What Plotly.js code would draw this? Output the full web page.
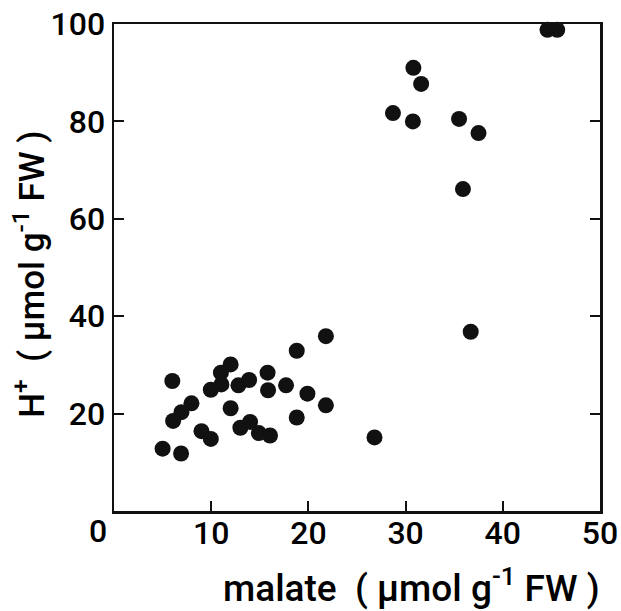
<!DOCTYPE html>
<html>
<head>
<meta charset="utf-8">
<script src="https://cdn.plot.ly/plotly-3.0.1.min.js"></script>
<style>html,body{margin:0;padding:0;background:#fff;}#chart{width:621px;height:611px;}</style>
</head>
<body>
<div id="chart"></div>
<script>
// malate (µmol g-1 FW) and H+ (µmol g-1 FW)
const malate = [44.6, 45.6, 30.8, 31.6, 28.7, 30.75, 35.5, 37.5, 35.9, 36.7,
  21.8, 18.8, 6.0, 12.0, 11.0, 9.96, 11.05, 12.8, 13.9, 15.8,
  15.85, 17.7, 19.9, 21.8, 18.8, 12.0, 7.97, 6.94, 6.08, 9.0,
  9.96, 13.0, 14.0, 14.9, 16.05, 26.8, 5.0, 6.9];
const hplus = [98.8, 98.8, 91.0, 87.7, 81.7, 80.0, 80.5, 77.6, 66.1, 36.8,
  35.9, 32.9, 26.7, 30.1, 28.4, 24.9, 26.0, 25.8, 26.9, 28.4,
  24.8, 25.8, 24.1, 21.7, 19.2, 21.1, 22.1, 20.3, 18.5, 16.4,
  14.8, 17.1, 18.3, 16.0, 15.5, 15.1, 12.8, 11.8];
const xTicks = [10, 20, 30, 40, 50];
const yTicks = [20, 40, 60, 80, 100];
const xTitle = 'malate  ( µmol g<sup>-1</sup> FW )';
const yTitle = 'H<sup>+</sup>  ( µmol g<sup>-1</sup> FW )';

const font = {family: 'Roboto, "DejaVu Sans", sans-serif', size: 32, color: '#000', weight: 500};
const xTitleFont = {family: 'Roboto, "DejaVu Sans", sans-serif', size: 37, color: '#000', weight: 500};
const yTitleFont = {family: 'Roboto, "DejaVu Sans", sans-serif', size: 35, color: '#000', weight: 500};

const trace = {
  x: malate, y: hplus, type: 'scatter', mode: 'markers',
  marker: {size: 16, color: '#111', line: {width: 0}},
  hoverinfo: 'skip', showlegend: false, cliponaxis: false
};

const layout = {
  width: 621, height: 611,
  margin: {l: 114, r: 21, t: 24, b: 100, pad: 0},
  paper_bgcolor: '#fff', plot_bgcolor: '#fff',
  font: font,
  showlegend: false,
  xaxis: {
    range: [0, 50], tickvals: xTicks, ticktext: xTicks.map(String),
    ticks: 'inside', ticklen: 10, tickwidth: 2, tickcolor: '#111',
    showline: true, linewidth: 2.5, linecolor: '#111', mirror: true,
    showgrid: false, zeroline: false, tickfont: font, ticklabelstandoff: -8
  },
  yaxis: {
    range: [0, 100], tickvals: yTicks, ticktext: yTicks.map(String),
    ticks: 'inside', ticklen: 10, tickwidth: 2, tickcolor: '#111',
    showline: true, linewidth: 2.5, linecolor: '#111', mirror: 'ticks',
    showgrid: false, zeroline: false, tickfont: font, ticklabelstandoff: 0
  },
  annotations: [
    {text: '0', xref: 'paper', yref: 'paper', x: 0, y: 0, xshift: -16, yshift: -20,
     showarrow: false, font: font, xanchor: 'center', yanchor: 'middle'},
    {text: xTitle, xref: 'paper', yref: 'paper', x: 0.612, y: 0, yshift: -74,
     showarrow: false, font: xTitleFont, xanchor: 'center', yanchor: 'middle'},
    {text: yTitle, xref: 'paper', yref: 'paper', x: 0, y: 0.485, xshift: -84,
     textangle: -90, showarrow: false, font: yTitleFont, xanchor: 'center', yanchor: 'middle'}
  ]
};

Plotly.newPlot('chart', [trace], layout, {displayModeBar: false, staticPlot: true});
</script>
</body>
</html>
